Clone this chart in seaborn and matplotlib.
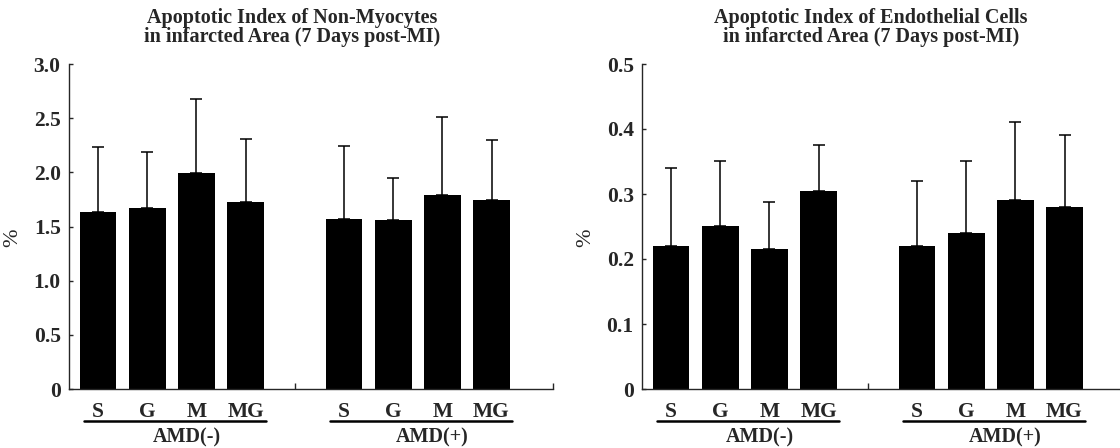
import matplotlib
matplotlib.use('Agg')

import matplotlib.pyplot as plt
import matplotlib.transforms as mtransforms
import seaborn as sns
import pandas as pd

# ---- data ----
groups = ["AMD(-)", "AMD(+)"]
treatments = ["S", "G", "M", "MG"]

nonmyo_mean = [1.63, 1.67, 1.99, 1.73, 1.57, 1.56, 1.79, 1.74]
nonmyo_sd = [0.60, 0.52, 0.69, 0.58, 0.67, 0.39, 0.72, 0.56]
nonmyo_yticks = [0, 0.5, 1.0, 1.5, 2.0, 2.5, 3.0]
nonmyo_yticklabels = ["0", "0.5", "1.0", "1.5", "2.0", "2.5", "3.0"]

endo_mean = [0.22, 0.25, 0.215, 0.305, 0.22, 0.24, 0.29, 0.28]
endo_sd = [0.12, 0.10, 0.073, 0.07, 0.10, 0.11, 0.12, 0.11]
endo_yticks = [0, 0.1, 0.2, 0.3, 0.4, 0.5]
endo_yticklabels = ["0", "0.1", "0.2", "0.3", "0.4", "0.5"]

titles = [
    "Apoptotic Index of Non-Myocytes\nin infarcted Area (7 Days post-MI)",
    "Apoptotic Index of Endothelial Cells\nin infarcted Area (7 Days post-MI)",
]

# bar slots: four per group, one empty slot between groups
positions = [g * 5 + i for g in range(len(groups)) for i in range(len(treatments))]
labels = treatments * len(groups)

sns.set_style("ticks")
plt.rcParams['font.family'] = ['Liberation Serif', 'DejaVu Serif']
plt.rcParams['axes.linewidth'] = 1.0

fig = plt.figure(figsize=(11.2, 4.48), dpi=100)
ax_left = fig.add_axes([69 / 1120, 1 - 389 / 448, 484 / 1120, 325 / 448])
ax_right = fig.add_axes([642 / 1120, 1 - 389 / 448, 484 / 1120, 325 / 448])

XMIN, XMAX = -0.59, 9.25


def draw_panel(ax, means, sds, yticks, yticklabels, title, title_x):
    df = pd.DataFrame({"pos": positions, "value": means})
    sns.barplot(data=df, x="pos", y="value", native_scale=True, color="black",
                saturation=1, width=0.75, errorbar=None, ax=ax, linewidth=0)
    ax.errorbar(positions, means, yerr=[[0] * len(sds), sds], fmt="none",
                ecolor="black", elinewidth=1.1, capsize=4, capthick=1.1)

    ax.set_xlim(XMIN, XMAX)
    ax.set_ylim(0, yticks[-1])
    sns.despine(ax=ax)

    ax.set_yticks(yticks)
    ax.set_yticklabels(yticklabels, fontsize=15.5, fontweight="bold")
    ax.tick_params(axis="y", direction="in", length=3, width=1, pad=6)

    ax.set_xticks(positions)
    ax.set_xticklabels(labels, fontsize=15.5, fontweight="bold")
    ax.tick_params(axis="x", which="major", length=0, pad=9)
    ax.set_xticks([4, XMAX], minor=True)
    ax.tick_params(axis="x", which="minor", direction="in", length=4, width=1)

    ax.set_xlabel("")
    ax.set_ylabel("%", fontsize=16)
    ax.yaxis.set_label_coords(-0.097, 0.465)

    # group underline + label below the treatment names
    trans = mtransforms.blended_transform_factory(ax.transData, ax.transAxes)
    for g, name in enumerate(groups):
        start = g * 5
        ax.plot([start - 0.28, start + 3.42], [-0.098, -0.098], color="black",
                lw=1.8, transform=trans, clip_on=False)
        ax.text(start + 1.8, -0.148, name, transform=trans, ha="center",
                va="center", fontsize=14.5, fontweight="bold")

    ax.set_title(title, fontsize=14.5, fontweight="bold", x=title_x, pad=16,
                 linespacing=0.92)


draw_panel(ax_left, nonmyo_mean, nonmyo_sd, nonmyo_yticks, nonmyo_yticklabels,
           titles[0], 0.462)
draw_panel(ax_right, endo_mean, endo_sd, endo_yticks, endo_yticklabels,
           titles[1], 0.473)

fig.savefig("out.png", dpi=100, facecolor="white")
